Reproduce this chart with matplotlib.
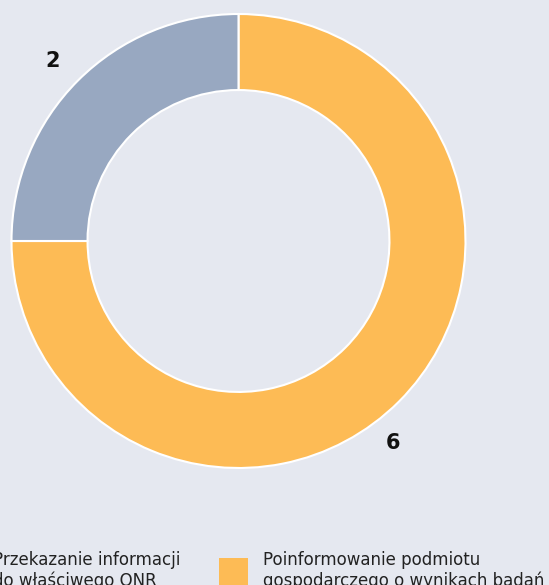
import numpy as np
import matplotlib.pyplot as plt
from matplotlib.patches import Patch

# data
categories = ["Poinformowanie podmiotu\ngospodarczego o wynikach badań",
              "Przekazanie informacji\ndo właściwego ONR"]
values = [6, 2]
colors = ["#FDBB55", "#98A8C1"]
bg = "#E5E8F0"

W, H = 549, 585
fig = plt.figure(figsize=(W / 100, H / 100), dpi=100, facecolor=bg)
plt.rcParams['font.family'] = ['DejaVu Sans']

# pie axes: centre (238.5, 241) px from top, radius 227 px
cx, cy, r = 238.5, 241, 227
ax = fig.add_axes([(cx - r) / W, (H - cy - r) / H, 2 * r / W, 2 * r / H])
ax.set_facecolor(bg)
wedges, _ = ax.pie(values, colors=colors, startangle=90, counterclock=False,
                   radius=1.0,
                   wedgeprops=dict(width=0.335, edgecolor="white", linewidth=1.5))
ax.set_xlim(-1, 1)
ax.set_ylim(-1, 1)
ax.set_aspect("equal")
ax.axis("off")

# value labels outside the ring
label_pos = {0: (-52.5, 1.12), 1: (136, 1.14)}
for i, w in enumerate(wedges):
    ang, dist = label_pos[i]
    a = np.deg2rad(ang)
    ax.text(dist * np.cos(a), dist * np.sin(a), str(values[i]),
            ha="center", va="center", fontsize=15, fontweight="semibold",
            color="#111111")

# legend (partly cut by the figure edge like the original)
handles = [Patch(facecolor=colors[1]), Patch(facecolor=colors[0])]
labels = [categories[1], categories[0]]
fig.legend(handles, labels, ncol=2, loc="upper left",
           bbox_to_anchor=(-51 / W, 1 - 551 / H), frameon=False,
           borderaxespad=0, borderpad=0,
           fontsize=12, handlelength=1.75, handleheight=2.3,
           handletextpad=0.9, columnspacing=2.3, labelcolor="#222222")

fig.savefig("out.png", dpi=100, facecolor=bg)
